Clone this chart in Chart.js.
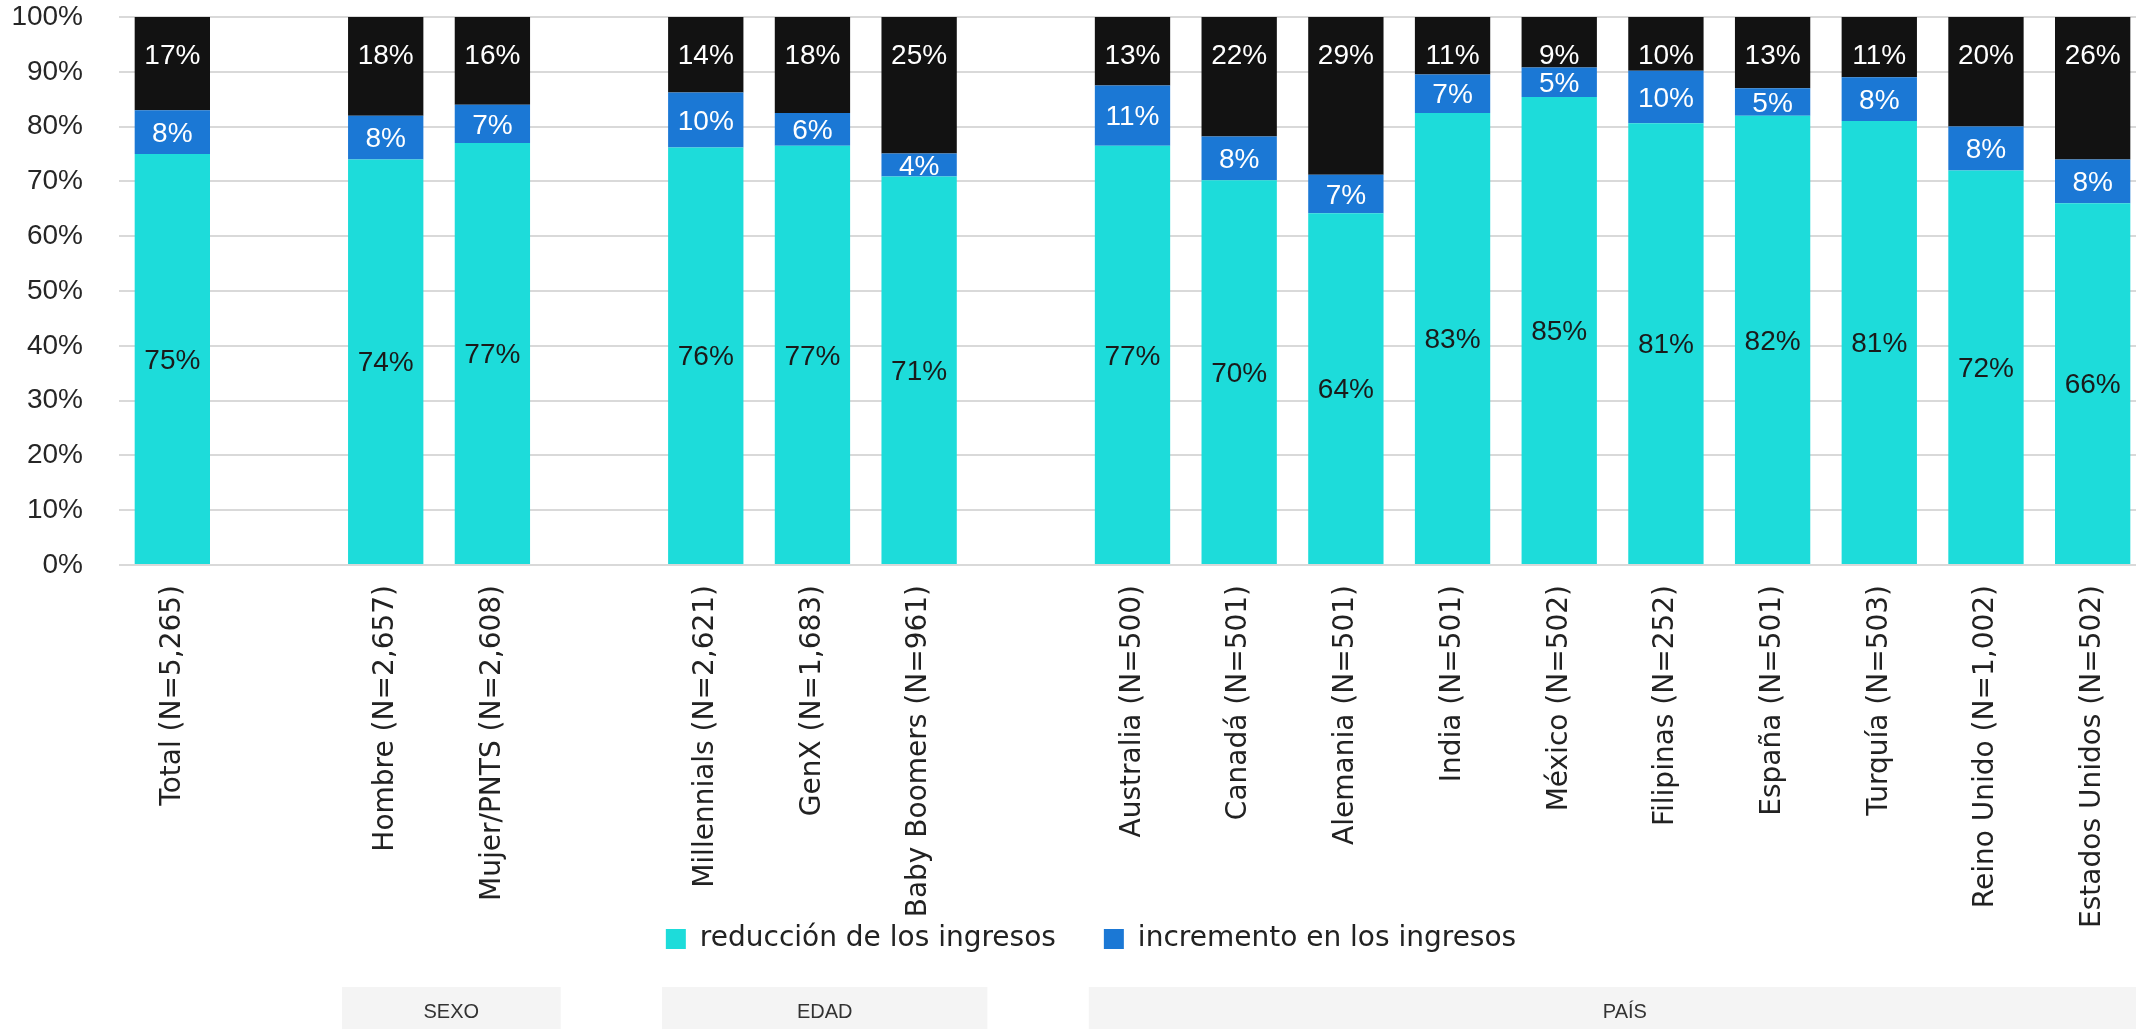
<!DOCTYPE html>
<html lang="es">
<head>
<meta charset="utf-8">
<title>Cambio en los ingresos</title>
<script src="https://cdn.jsdelivr.net/npm/chart.js@4.4.1/dist/chart.umd.min.js"></script>
<style>
  html, body { margin: 0; padding: 0; background: #fff; overflow: hidden; }
  #wrap { position: relative; width: 2146px; height: 1029px; }
</style>
</head>
<body>
<div id="wrap"><canvas id="ingresosChart"></canvas></div>
<script>
        // Categorias ('' = hueco entre grupos)
        const categories = [
            'Total (N=5,265)', '',
            'Hombre (N=2,657)', 'Mujer/PNTS (N=2,608)', '',
            'Millennials (N=2,621)', 'GenX (N=1,683)', 'Baby Boomers (N=961)', '',
            'Australia (N=500)', 'Canadá (N=501)', 'Alemania (N=501)', 'India (N=501)',
            'México (N=502)', 'Filipinas (N=252)', 'España (N=501)', 'Turquía (N=503)',
            'Reino Unido (N=1,002)', 'Estados Unidos (N=502)'
        ];

        // Valores (%)
        const reduccion  = [75, null, 74, 77, null, 76.2, 76.5, 70.9, null, 76.5, 70.2, 64.2, 82.5, 85.4, 80.6, 82, 81, 72, 66];
        const incremento = [8, null, 8, 7, null, 10, 6, 4.2, null, 11, 8, 7, 7, 5.4, 9.6, 5, 8, 8, 8];
        const sinCambio  = [17, null, 18, 16, null, 13.8, 17.5, 24.9, null, 12.5, 21.8, 28.8, 10.5, 9.2, 9.8, 13, 11, 20, 26];

        const seriesNames = ['reducción de los ingresos', 'incremento en los ingresos', 'sin cambio'];
        const yTicks = [0, 10, 20, 30, 40, 50, 60, 70, 80, 90, 100];

        // Grupos bajo la leyenda
        const grupos = ['SEXO', 'EDAD', 'PAÍS'];
        const grupoInicio = [2, 5, 9];
        const grupoFin = [3, 7, 18];

        const numFont = '"Liberation Sans", Arial, sans-serif';
        const textFont = '"DejaVu Sans", sans-serif';

        // Etiquetas de valor dentro de las barras
        const etiquetasPlugin = {
            id: 'etiquetas',
            afterDatasetsDraw(chart) {
                const ctx = chart.ctx;
                ctx.save();
                ctx.font = '28px ' + numFont;
                ctx.textAlign = 'center';
                ctx.textBaseline = 'middle';
                chart.data.datasets.forEach((ds, i) => {
                    const meta = chart.getDatasetMeta(i);
                    meta.data.forEach((bar, j) => {
                        const v = ds.data[j];
                        if (v == null) return;
                        // la serie negra lleva la etiqueta cerca del extremo superior
                        const y = i === 2 ? bar.y + 39 : (bar.y + bar.base) / 2 + 2;
                        ctx.fillStyle = i === 0 ? '#1a1a1a' : '#ffffff';
                        ctx.fillText(Math.round(v) + '%', bar.x, y);
                    });
                });
                ctx.restore();
            }
        };

        // Cajas grises SEXO / EDAD / PAIS
        const gruposPlugin = {
            id: 'grupos',
            afterDraw(chart) {
                const x = chart.scales.x;
                const ctx = chart.ctx;
                const slot = x.getPixelForValue(1) - x.getPixelForValue(0);
                const top = chart.height - 42;
                ctx.save();
                grupos.forEach((nombre, k) => {
                    const izq = x.getPixelForValue(grupoInicio[k]) - slot * 0.41;
                    const der = x.getPixelForValue(grupoFin[k]) + slot * 0.64;
                    ctx.fillStyle = '#f4f4f4';
                    ctx.fillRect(izq, top, der - izq, 60);
                    ctx.fillStyle = '#333333';
                    ctx.font = '20px ' + numFont;
                    ctx.textAlign = 'center';
                    ctx.textBaseline = 'middle';
                    ctx.fillText(nombre, (izq + der) / 2, top + 25);
                });
                ctx.restore();
            }
        };

        // no recortar las etiquetas de los ejes a su caja
        const sinRecorte = scale => { scale._computeLabelArea = () => undefined; };

        const ctx = document.getElementById('ingresosChart').getContext('2d');
        const ingresosChart = new Chart(ctx, {
            type: 'bar',
            data: {
                labels: categories,
                datasets: [
                    { label: seriesNames[0], data: reduccion, backgroundColor: '#1ddcda' },
                    { label: seriesNames[1], data: incremento, backgroundColor: '#1b78d5' },
                    { label: seriesNames[2], data: sinCambio, backgroundColor: '#121212' }
                ]
            },
            options: {
                responsive: true,
                maintainAspectRatio: false,
                animation: false,
                devicePixelRatio: 1,
                datasets: {
                    bar: { categoryPercentage: 1, barPercentage: 0.706 }
                },
                layout: { padding: { left: 36, right: 0, top: 17, bottom: 66 } },
                plugins: {
                    tooltip: { enabled: false },
                    legend: {
                        position: 'bottom',
                        labels: {
                            filter: item => item.datasetIndex < 2,
                            boxWidth: 20,
                            boxHeight: 20,
                            padding: 48,
                            color: '#222222',
                            font: { family: textFont, size: 28 }
                        }
                    }
                },
                scales: {
                    x: {
                        stacked: true,
                        grid: { display: false },
                        border: { display: false },
                        ticks: {
                            autoSkip: false,
                            minRotation: 90,
                            maxRotation: 90,
                            padding: 12,
                            color: '#222222',
                            font: { family: textFont, size: 28 }
                        },
                        afterFit(scale) {
                            scale.height = 312;
                            sinRecorte(scale);
                        }
                    },
                    y: {
                        stacked: true,
                        min: yTicks[0],
                        max: yTicks[yTicks.length - 1],
                        afterBuildTicks(scale) { scale.ticks = yTicks.map(v => ({ value: v })); },
                        ticks: {
                            padding: 36,
                            color: '#262626',
                            font: { family: numFont, size: 28 },
                            callback: v => v + '%'
                        },
                        grid: { color: '#d9d9d9', lineWidth: 2, drawTicks: false },
                        border: { display: false },
                        afterFit(scale) {
                            scale.width = 83;
                            scale.paddingTop = 0;
                            scale.paddingBottom = 0;
                            sinRecorte(scale);
                        }
                    }
                }
            },
            plugins: [etiquetasPlugin, gruposPlugin]
        });
</script>
</body>
</html>
